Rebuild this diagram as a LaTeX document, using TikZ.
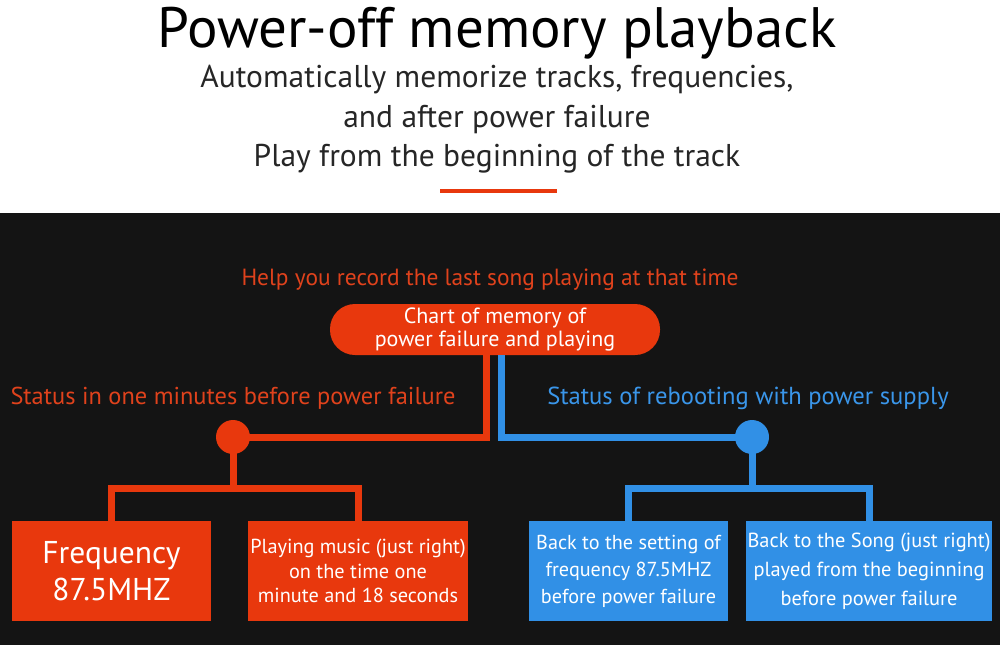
\documentclass[tikz,border=0pt]{standalone}
\usepackage{fontspec}
\setmainfont{PT Sans}
\definecolor{bgdark}{HTML}{141414}
\definecolor{ored}{HTML}{E8380D}
\definecolor{otext}{HTML}{E0421C}
\definecolor{oblue}{HTML}{3190E6}
\definecolor{btext}{HTML}{3A96EA}
\definecolor{subgray}{HTML}{262626}
\begin{document}
\begin{tikzpicture}[x=1pt,y=-1pt,
  redline/.style={draw=ored,line width=7pt},
  blueline/.style={draw=oblue,line width=7pt},
  rbox/.style={fill=ored,text=white,inner sep=0pt,minimum height=100pt,align=center},
  bbox/.style={fill=oblue,text=white,inner sep=0pt,minimum height=100pt,align=center},
  dot/.style={circle,inner sep=0pt,minimum size=34pt}]
\useasboundingbox (0,0) rectangle (1000,645);
\fill[white] (0,0) rectangle (1000,213);
\fill[bgdark] (0,213) rectangle (1000,645);
% header
\node[text=black,font=\fontsize{57}{60}\selectfont] (title) at (497,33) {Power-off memory playback};
\node[text=subgray,font=\fontsize{31.5}{39.5}\selectfont,align=center,anchor=north] (sub) at (497,62)
  {Automatically memorize tracks, frequencies,\\and after power failure\\Play from the beginning of the track};
\coordinate (ulA) at (440,191);
\coordinate (ulB) at (557,191);
\draw[ored,line width=4pt] (ulA) -- (ulB);
% chart
\node[text=otext,font=\fontsize{23.4}{25}\selectfont] (help) at (490,280) {Help you record the last song playing at that time};
\node[fill=ored,text=white,rounded corners=25pt,minimum width=330pt,minimum height=51pt,inner sep=0pt,align=center,
  font=\fontsize{22}{23.5}\selectfont] (pill) at (495,329.5) {Chart of memory of\\power failure and playing};
\node[text=otext,font=\fontsize{24.4}{26}\selectfont] (lstat) at (233,398) {Status in one minutes before power failure};
\node[text=btext,font=\fontsize{24.6}{26}\selectfont] (rstat) at (748,398) {Status of rebooting with power supply};
\node[dot,fill=ored] (rc) at (233,437) {};
\node[dot,fill=oblue] (bc) at (752,437) {};
\draw[redline] ([xshift=-9pt]pill.south) |- (rc.center);
\draw[blueline] ([xshift=6pt]pill.south) |- (bc.center);
% boxes
\node[rbox,minimum width=199pt,font=\fontsize{31.5}{37}\selectfont] (b1) at (111.5,571) {Frequency\\87.5MHZ};
\node[rbox,minimum width=220pt,font=\fontsize{20.3}{24.5}\selectfont] (b2) at (358,571) {Playing music (just right)\\on the time one\\minute and 18 seconds};
\node[bbox,minimum width=199pt,font=\fontsize{20.2}{27}\selectfont] (b3) at (628.5,571) {Back to the setting of\\frequency 87.5MHZ\\before power failure};
\node[bbox,minimum width=246pt,font=\fontsize{20.4}{29}\selectfont] (b4) at (869,571) {Back to the Song (just right)\\played from the beginning\\before power failure};
\draw[redline] (rc.center) -- (rc |- 0,488);
\draw[redline] (b1.north) |- (rc |- 0,488) -| (b2.north);
\draw[blueline] (bc.center) -- (bc |- 0,488);
\draw[blueline] (b3.north) |- (bc |- 0,488) -| (b4.north);
\end{tikzpicture}
\end{document}
